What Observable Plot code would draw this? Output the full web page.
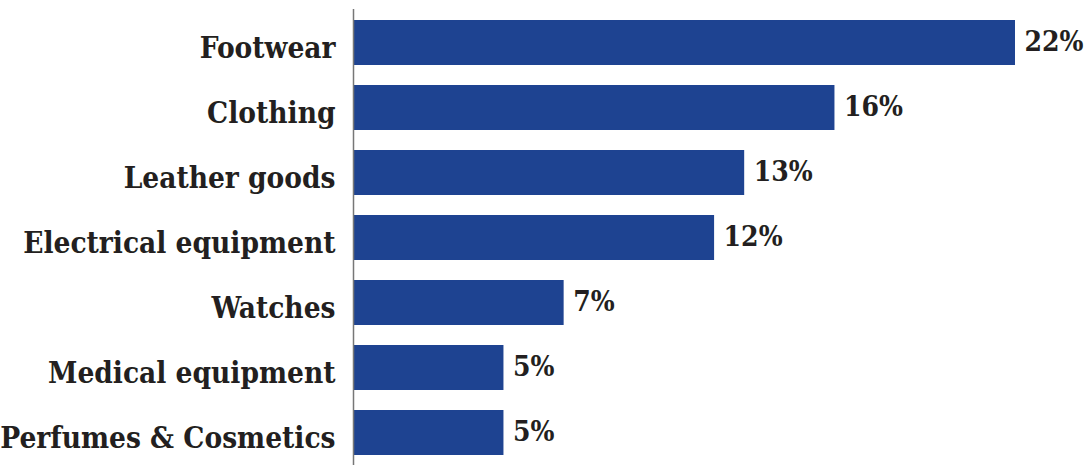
<!DOCTYPE html>
<html>
<head>
<meta charset="utf-8">
<script src="https://cdn.jsdelivr.net/npm/d3@7"></script>
<script src="https://cdn.jsdelivr.net/npm/@observablehq/plot@0.6"></script>
<style>
  html, body { margin: 0; padding: 0; background: #fff; }
  #chart svg { display: block; }
</style>
</head>
<body>
<div id="chart"></div>
<script>
const categories = ["Footwear", "Clothing", "Leather goods", "Electrical equipment", "Watches", "Medical equipment", "Perfumes & Cosmetics"];
const values = [22, 16, 13, 12, 7, 5, 5];
const valueLabels = ["22%", "16%", "13%", "12%", "7%", "5%", "5%"];

const data = categories.map((c, i) => ({category: c, value: values[i], label: valueLabels[i]}));
const font = "'DejaVu Serif Condensed', 'DejaVu Serif', serif";

const chart = Plot.plot({
  width: 1085,
  height: 465,
  marginLeft: 353,
  marginRight: 70,
  marginTop: 9,
  marginBottom: 0,
  style: {background: "#fff"},
  x: {domain: [0, 22], axis: null},
  y: {domain: categories, padding: 0, axis: null},
  marks: [
    Plot.barX(data, {x: "value", y: "category", fill: "#1e4391", insetTop: 10, insetBottom: 10}),
    Plot.ruleX([0], {stroke: "#777", strokeWidth: 1.5}),
    Plot.text(data, {x: 0, y: "category", text: "category", textAnchor: "end", dx: -18, dy: 6,
      fontFamily: font, fontWeight: "bold", fontSize: 29.5, fill: "#231f20"}),
    Plot.text(data, {x: "value", y: "category", text: "label", textAnchor: "start", dx: 9, dy: -1,
      fontFamily: font, fontWeight: "bold", fontSize: 28, fill: "#231f20"})
  ]
});
document.getElementById("chart").appendChild(chart);
</script>
</body>
</html>
